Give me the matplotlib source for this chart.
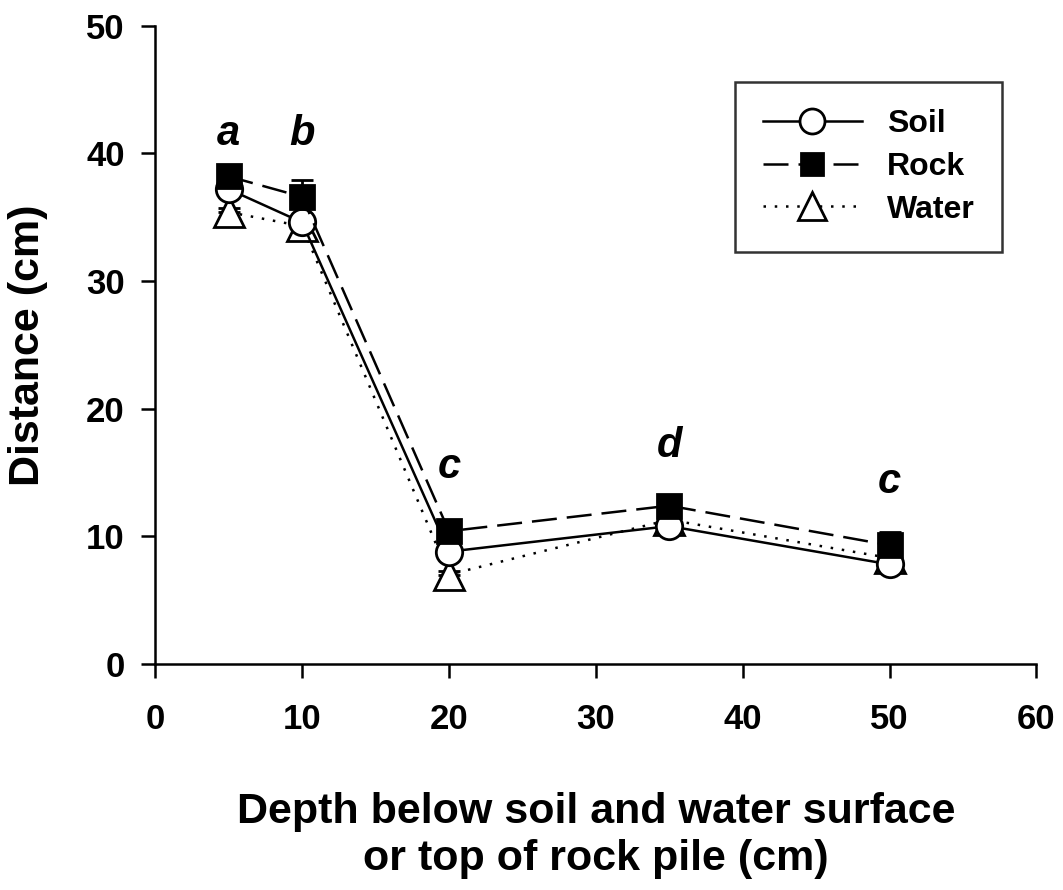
import matplotlib.pyplot as plt
from matplotlib.lines import Line2D

plt.rcParams['font.family'] = ['Liberation Sans', 'DejaVu Sans']
plt.rcParams['font.weight'] = 'bold'

# --- Data ---
depth = [5, 10, 20, 35, 50]
soil = [37.2, 34.6, 8.8, 10.8, 7.8]
soil_err = [0.4, 0.4, 0.4, 0.3, 0.4]
rock = [38.2, 36.6, 10.4, 12.4, 9.3]
rock_err = [0.6, 1.3, 0.5, 0.4, 1.0]
water = [35.4, 34.3, 7.0, 11.3, 8.3]
water_err = [0.3, 0.3, 0.3, 0.3, 0.3]

letters = ["a", "b", "c", "d", "c"]
letter_y = [40.7, 40.7, 14.6, 16.2, 13.4]

# --- Styles ---
lw = 1.8
styles = {
    "Soil": dict(ls="-", marker="o", ms=19, mfc="white"),
    "Rock": dict(ls=(0, (10, 4)), marker="s", ms=17, mfc="black"),
    "Water": dict(ls=(0, (1, 3.5)), marker="^", ms=21, mfc="white"),
}

fig = plt.figure(figsize=(10.63, 8.9), dpi=100)
ax = fig.add_axes([0.146, 0.254, 0.829, 0.717])

series = [("Water", water, water_err, 3), ("Soil", soil, soil_err, 4),
          ("Rock", rock, rock_err, 5)]
for name, vals, err, z in series:
    st = styles[name]
    ax.errorbar(depth, vals, yerr=[[0] * len(err), err], color="black",
                lw=lw, mec="black", mew=2, capsize=8, capthick=2,
                elinewidth=2, zorder=z, **st)

for x, y, t in zip(depth, letter_y, letters):
    ax.text(x, y, t, ha="center", va="baseline", fontsize=30,
            fontstyle="italic", fontweight="bold")

ax.set_xlim(0, 60)
ax.set_ylim(0, 50)
ax.set_xticks(range(0, 61, 10))
ax.set_yticks(range(0, 51, 10))
ax.spines["top"].set_visible(False)
ax.spines["right"].set_visible(False)
ax.spines["left"].set_linewidth(1.8)
ax.spines["bottom"].set_linewidth(1.8)
ax.tick_params(direction="out", length=10, width=1.8, labelsize=25)
ax.tick_params(axis="y", pad=12)
ax.tick_params(axis="x", pad=18)
for lab in ax.get_xticklabels() + ax.get_yticklabels():
    lab.set_fontweight("bold")

ax.set_ylabel("Distance (cm)", fontsize=31, fontweight="bold")
ax.yaxis.set_label_coords(-0.122, 0.5)
ax.set_xlabel("Depth below soil and water surface\nor top of rock pile (cm)",
              fontsize=31, fontweight="bold", linespacing=1.25, va="top")
ax.xaxis.set_label_coords(0.5, -0.2)

handles = [Line2D([], [], color="black", lw=lw, mec="black", mew=2,
                  **dict(styles[n], ms=styles[n]["ms"] - 1))
           for n in ("Soil", "Rock", "Water")]
leg = ax.legend(handles, ["Soil", "Rock", "Water"],
                loc="upper right", bbox_to_anchor=(0.961, 0.912), fontsize=23,
                frameon=True, fancybox=False, edgecolor="black",
                handlelength=3.1, borderpad=0.85, labelspacing=0.4,
                handletextpad=0.8, borderaxespad=0)
leg.get_frame().set_linewidth(1.8)

fig.savefig("out.png", dpi=100)
